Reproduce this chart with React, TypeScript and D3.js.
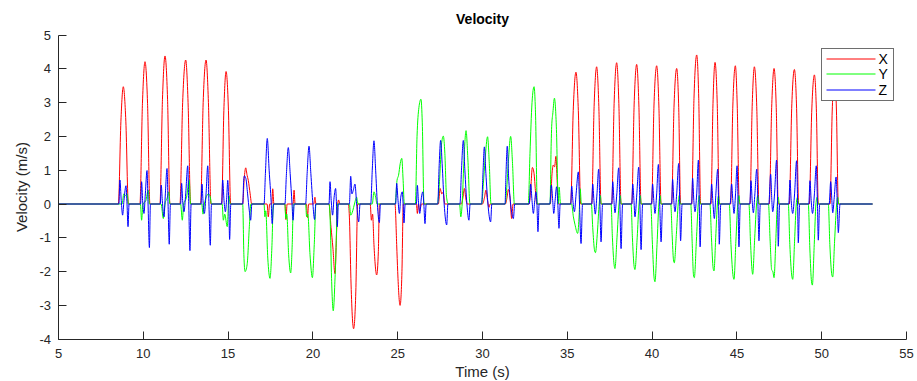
import React from "react";
import * as d3 from "d3";

type P = [number, number];

const title = "Velocity";
const xLabel = "Time (s)";
const yLabel = "Velocity (m/s)";
const xTicks = [5, 10, 15, 20, 25, 30, 35, 40, 45, 50, 55];
const yTicks = [-4, -3, -2, -1, 0, 1, 2, 3, 4, 5];
const seriesNames = ["X", "Y", "Z"];
const seriesColors = ["#ff0000", "#00ff00", "#0000ff"];

const xSeries: P[] = [
  [5, 0],
  [8.53, 0], [8.68, 2.45], [8.82, 3.47], [8.97, 2.45], [9.12, 0],
  [9.8, 0], [9.95, 2.98], [10.1, 4.21], [10.25, 2.98], [10.39, 0],
  [10.98, 0], [11.13, 3.1], [11.28, 4.38], [11.43, 3.1], [11.57, 0],
  [12.16, 0], [12.32, 3.0], [12.5, 4.26], [12.64, 3.0], [12.79, 0],
  [13.38, 0], [13.53, 3.0], [13.7, 4.26], [13.84, 3.0], [13.99, 0],
  [14.62, 0], [14.75, 2.77], [14.88, 3.92], [15.02, 2.77], [15.15, 0],
  [15.86, 0], [15.95, 0.75], [16.04, 1.07], [16.12, 0.85], [16.19, 0.7], [16.3, 0.3], [16.39, 0],
  [17.3, 0], [17.37, -0.38], [17.45, 0], [17.58, 0], [17.63, 0.45], [17.7, 0],
  [18.35, 0], [18.41, -0.46], [18.48, 0], [18.83, 0], [18.89, 0.41], [18.95, 0],
  [19.62, 0], [19.68, -0.4], [19.75, 0], [20.05, 0], [20.12, 0.2], [20.18, 0],
  [20.95, 0], [21.07, -0.7], [21.18, -1.3], [21.3, -2.06], [21.4, -0.8], [21.46, 0], [21.52, 0.12], [21.58, 0],
  [22.09, 0], [22.16, -0.5], [22.24, -2.2], [22.4, -3.69], [22.53, -2.6], [22.64, 0],
  [23.38, 0], [23.45, -0.48], [23.52, -0.3], [23.6, -1.2], [23.76, -2.1], [23.86, -1.4], [23.92, 0],
  [24.84, 0], [24.94, -1.2], [25.0, -2.0], [25.14, -3.0], [25.25, -2.0], [25.33, 0],
  [26.1, 0], [26.16, -0.28], [26.22, 0], [26.3, -0.2], [26.4, 0],
  [27.4, 0], [27.5, 0.46], [27.6, 0.3], [27.68, 0.35], [27.78, 0],
  [28.75, 0], [28.85, 0.2], [28.93, 0.46], [29.02, 0.15], [29.1, 0],
  [30.0, 0], [30.12, 0.2], [30.2, 0.41], [30.3, 0.1], [30.38, -0.1], [30.45, 0],
  [31.35, 0], [31.45, 0.2], [31.52, 0.43], [31.62, 0.2], [31.72, -0.43], [31.8, 0],
  [32.75, 0], [32.85, 0.5], [32.94, 1.08], [33.04, 0.9], [33.12, 0.4], [33.2, 0],
  [34.0, 0], [34.1, 0.9], [34.17, 1.15], [34.25, 1.1], [34.33, 1.41], [34.4, 0.7], [34.48, 0],
  [35.2, 0], [35.35, 2.77], [35.51, 3.9], [35.65, 2.77], [35.79, 0],
  [36.44, 0], [36.58, 2.88], [36.73, 4.06], [36.86, 2.88], [36.99, 0],
  [37.62, 0], [37.76, 2.97], [37.91, 4.18], [38.04, 2.97], [38.17, 0],
  [38.8, 0], [38.94, 2.93], [39.09, 4.13], [39.22, 2.93], [39.35, 0],
  [39.97, 0], [40.11, 2.9], [40.27, 4.09], [40.4, 2.9], [40.53, 0],
  [41.15, 0], [41.29, 2.85], [41.45, 4.01], [41.57, 2.85], [41.68, 0],
  [42.33, 0], [42.47, 3.13], [42.63, 4.41], [42.75, 3.13], [42.86, 0],
  [43.47, 0], [43.59, 2.97], [43.71, 4.19], [43.84, 2.97], [43.96, 0],
  [44.63, 0], [44.76, 2.9], [44.91, 4.09], [45.02, 2.9], [45.14, 0],
  [45.77, 0], [45.9, 2.88], [46.03, 4.06], [46.17, 2.88], [46.3, 0],
  [46.91, 0], [47.05, 2.85], [47.19, 4.01], [47.32, 2.85], [47.44, 0],
  [48.09, 0], [48.23, 2.83], [48.39, 3.98], [48.52, 2.83], [48.64, 0],
  [49.27, 0], [49.41, 2.71], [49.57, 3.82], [49.69, 2.71], [49.8, 0],
  [50.49, 0], [50.62, 2.75], [50.76, 3.9], [50.87, 2.75], [50.98, 0],
  [53, 0],
];

const ySeries: P[] = [
  [5, 0],
  [8.75, 0], [8.85, 0.3], [8.95, 0.25], [9.05, 0.3], [9.12, 0],
  [9.83, 0], [9.9, -0.48], [9.98, 0], [10.15, 0.1], [10.29, 0.41], [10.36, 0],
  [11.05, 0], [11.18, -0.43], [11.28, 0], [11.42, 0.2], [11.5, 0.36], [11.57, 0],
  [12.2, 0], [12.3, -0.48], [12.38, 0], [12.55, 0.2], [12.71, 0.7], [12.78, 0],
  [13.45, 0], [13.52, -0.3], [13.6, 0], [13.85, 0.3], [13.95, 0.2], [14.02, 0],
  [14.65, 0], [14.72, -0.48], [14.8, -0.3], [14.95, -0.67], [15.05, 0.25], [15.12, 0],
  [15.86, 0], [15.93, -1.5], [16.0, -2.0], [16.12, -1.8], [16.26, -0.6], [16.34, 0],
  [17.12, 0], [17.17, -0.38], [17.22, -0.2], [17.34, -1.6], [17.47, -2.2], [17.58, -1.3], [17.67, 0],
  [18.35, 0], [18.4, -0.43], [18.46, -0.3], [18.57, -1.5], [18.69, -2.04], [18.78, -1.2], [18.85, 0],
  [19.57, 0], [19.63, -0.38], [19.7, -0.3], [19.83, -1.5], [19.97, -2.18], [20.08, -1.2], [20.18, 0],
  [20.95, 0], [21.02, -0.5], [21.1, -2.2], [21.2, -3.16], [21.32, -2.0], [21.46, 0],
  [22.15, 0], [22.23, -0.33], [22.35, -0.2], [22.45, 0], [22.58, 0.2], [22.66, 0],
  [23.5, 0], [23.6, 0.36], [23.7, 0.2], [23.78, 0],
  [24.85, 0], [24.96, 0.7], [25.05, 0.85], [25.15, 1.2], [25.24, 1.35], [25.32, 0.7], [25.39, 0],
  [26.04, 0], [26.14, 2.0], [26.25, 2.85], [26.37, 3.1], [26.45, 2.4], [26.55, 0],
  [27.34, 0], [27.48, 0.8], [27.58, 1.75], [27.69, 2.01], [27.78, 1.5], [27.88, 0.2], [27.99, 0],
  [28.65, 0], [28.72, -0.38], [28.8, 0], [28.9, 1.2], [29.03, 2.17], [29.14, 1.3], [29.26, 0],
  [29.95, 0], [30.05, 0.6], [30.15, 1.3], [30.3, 1.99], [30.4, 1.2], [30.5, 0],
  [31.33, 0], [31.42, 0.4], [31.52, 1.2], [31.66, 2.0], [31.77, 1.2], [31.88, 0],
  [32.7, 0], [32.8, 1.5], [32.92, 3.0], [33.04, 3.47], [33.13, 2.6], [33.23, 0],
  [33.98, 0], [34.05, 1.8], [34.08, 2.3], [34.15, 2.7], [34.24, 3.13], [34.36, 2.2], [34.47, 0], [34.52, 0.5], [34.6, 0],
  [35.25, 0], [35.36, -0.38], [35.45, -0.6], [35.61, -0.87], [35.7, -0.3], [35.76, 0.45], [35.83, 0],
  [36.42, 0], [36.5, -0.7], [36.6, -1.35], [36.66, -1.44], [36.78, -0.8], [36.88, 0], [36.95, 0.25], [37.0, 0],
  [37.58, 0], [37.66, -1.0], [37.76, -1.8], [37.81, -1.91], [37.93, -1.0], [38.05, 0], [38.12, 0.25], [38.18, 0],
  [38.76, 0], [38.84, -1.0], [38.94, -1.85], [38.99, -1.94], [39.12, -1.0], [39.23, 0], [39.3, 0.25], [39.36, 0],
  [39.92, 0], [40.02, -1.2], [40.12, -2.2], [40.17, -2.3], [40.29, -1.2], [40.4, 0], [40.47, 0.25], [40.53, 0],
  [41.1, 0], [41.18, -0.9], [41.26, -1.65], [41.31, -1.74], [41.43, -0.9], [41.54, 0], [41.6, 0.25], [41.66, 0],
  [42.28, 0], [42.36, -1.1], [42.44, -2.1], [42.49, -2.18], [42.61, -1.1], [42.72, 0], [42.78, 0.25], [42.84, 0],
  [43.41, 0], [43.5, -1.0], [43.6, -1.9], [43.65, -1.98], [43.75, -1.0], [43.85, 0], [43.92, 0.25], [43.98, 0],
  [44.55, 0], [44.65, -1.2], [44.78, -2.15], [44.83, -2.23], [44.94, -1.1], [45.05, 0], [45.12, 0.25], [45.18, 0],
  [45.71, 0], [45.8, -1.1], [45.9, -2.0], [45.93, -2.08], [46.05, -1.0], [46.16, 0], [46.23, 0.25], [46.3, 0],
  [46.86, 0], [46.96, -1.1], [47.05, -1.95], [47.12, -2.0], [47.19, -2.18], [47.3, -1.0], [47.38, 0], [47.44, 0.2], [47.5, 0],
  [48.03, 0], [48.12, -1.2], [48.23, -2.1], [48.29, -2.23], [48.4, -1.1], [48.5, 0], [48.57, 0.2], [48.63, 0],
  [49.21, 0], [49.3, -1.3], [49.4, -2.3], [49.45, -2.4], [49.56, -1.2], [49.66, 0], [49.73, 0.2], [49.79, 0],
  [50.39, 0], [50.48, -1.2], [50.6, -2.1], [50.65, -2.16], [50.76, -1.1], [50.88, 0], [50.95, 0.2], [51.0, 0],
  [53, 0],
];

const zSeries: P[] = [
  [5, 0],
  [8.56, 0], [8.62, 0.71], [8.7, 0.1], [8.78, -0.33], [8.86, 0.1], [8.98, 0.54], [9.04, 0], [9.1, -0.67], [9.16, 0],
  [9.84, 0], [9.9, 0.66], [9.96, 0.1], [10.04, -0.28], [10.12, 0.3], [10.22, 0.99], [10.28, 0], [10.36, -1.29], [10.42, 0],
  [11.0, 0], [11.06, 0.56], [11.12, 0.1], [11.22, -0.38], [11.3, 0.3], [11.4, 1.05], [11.46, 0], [11.53, -1.19], [11.6, 0],
  [12.2, 0], [12.26, 0.61], [12.32, 0.1], [12.4, -0.23], [12.5, 0.3], [12.62, 1.13], [12.68, 0], [12.75, -1.38], [12.82, 0],
  [13.4, 0], [13.46, 0.59], [13.52, 0.1], [13.6, -0.28], [13.7, 0.3], [13.8, 1.13], [13.87, 0], [13.95, -1.22], [14.02, 0],
  [14.62, 0], [14.68, 0.71], [14.76, 0.1], [14.84, -0.23], [14.92, 0.2], [14.98, 0.7], [15.04, 0], [15.09, -1.05], [15.16, 0],
  [15.86, 0], [15.92, 0.7], [15.96, 0.83], [16.05, 0.75], [16.15, 0.3], [16.25, -0.2], [16.33, -0.48], [16.4, 0],
  [17.12, 0], [17.2, 0.9], [17.31, 1.94], [17.42, 1.0], [17.54, 0.05], [17.6, -0.58], [17.68, 0],
  [18.35, 0], [18.44, 0.9], [18.55, 1.67], [18.66, 0.9], [18.77, 0], [18.83, -0.48], [18.9, 0],
  [19.57, 0], [19.66, 0.9], [19.77, 1.71], [19.88, 0.9], [20.0, 0], [20.1, -0.46], [20.17, 0],
  [20.95, 0], [21.01, 0.66], [21.08, 0.1], [21.16, -0.33], [21.25, 0.2], [21.34, 0.46], [21.39, 0], [21.44, -0.67], [21.5, 0],
  [22.15, 0], [22.23, 0.82], [22.3, 0.3], [22.38, 0.4], [22.48, 0.59], [22.58, 0], [22.7, -0.53], [22.78, 0],
  [23.41, 0], [23.5, 1.0], [23.6, 1.87], [23.7, 1.0], [23.8, 0], [23.92, -0.55], [23.98, 0],
  [24.88, 0], [24.94, 0.61], [25.02, 0.1], [25.1, -0.28], [25.18, 0.2], [25.27, 0.36], [25.32, 0], [25.37, -0.56], [25.44, 0],
  [26.1, 0], [26.16, 0.55], [26.22, 0.1], [26.3, -0.28], [26.4, 0.2], [26.48, 0.36], [26.54, 0], [26.61, -0.58], [26.68, 0],
  [27.36, 0], [27.45, 1.2], [27.53, 1.88], [27.62, 1.2], [27.74, 0], [27.89, -0.62], [27.96, 0],
  [28.67, 0], [28.76, 1.0], [28.87, 1.88], [28.96, 1.0], [29.08, 0], [29.2, -0.48], [29.27, 0],
  [29.95, 0], [30.02, 0.8], [30.11, 1.69], [30.2, 0.9], [30.32, 0], [30.48, -0.53], [30.55, 0],
  [31.33, 0], [31.38, 0.8], [31.46, 1.71], [31.54, 0.8], [31.66, 0], [31.82, -0.43], [31.9, 0],
  [32.75, 0], [32.84, 0.59], [32.92, 0.1], [33.0, -0.28], [33.08, 0.1], [33.15, 0.36], [33.21, 0], [33.27, -0.82], [33.34, 0],
  [33.97, 0], [34.06, 0.56], [34.14, 0.1], [34.2, -0.28], [34.28, 0.1], [34.37, 0.51], [34.44, 0], [34.51, -0.72], [34.58, 0],
  [35.2, 0], [35.26, 0.53], [35.33, 0.1], [35.42, -0.23], [35.52, 0.3], [35.65, 0.95], [35.72, 0], [35.81, -1.17], [35.9, 0],
  [36.44, 0], [36.5, 0.59], [36.57, 0.1], [36.65, -0.3], [36.75, 0.3], [36.85, 1.03], [36.92, 0], [36.99, -1.12], [37.08, 0],
  [37.62, 0], [37.68, 0.66], [37.75, 0.1], [37.81, -0.26], [37.92, 0.3], [38.03, 1.07], [38.1, 0], [38.17, -1.32], [38.26, 0],
  [38.8, 0], [38.86, 0.59], [38.93, 0.1], [38.99, -0.38], [39.1, 0.3], [39.21, 1.09], [39.28, 0], [39.35, -1.35], [39.44, 0],
  [39.97, 0], [40.03, 0.59], [40.1, 0.1], [40.17, -0.28], [40.27, 0.3], [40.37, 1.17], [40.45, 0], [40.53, -1.12], [40.62, 0],
  [41.15, 0], [41.21, 0.73], [41.28, 0.1], [41.35, -0.23], [41.45, 0.3], [41.57, 1.2], [41.63, 0], [41.68, -1.09], [41.77, 0],
  [42.33, 0], [42.39, 0.76], [42.46, 0.1], [42.53, -0.23], [42.63, 0.3], [42.73, 1.3], [42.78, 0], [42.83, -1.27], [42.92, 0],
  [43.44, 0], [43.51, 0.59], [43.58, 0.1], [43.67, -0.43], [43.76, 0.3], [43.87, 1.03], [43.92, 0], [43.96, -1.19], [44.05, 0],
  [44.6, 0], [44.69, 0.59], [44.76, 0.1], [44.83, -0.28], [44.92, 0.3], [45.01, 1.13], [45.07, 0], [45.12, -1.27], [45.2, 0],
  [45.76, 0], [45.83, 0.69], [45.9, 0.1], [45.97, -0.26], [46.06, 0.3], [46.17, 1.03], [46.24, 0], [46.3, -1.09], [46.38, 0],
  [46.88, 0], [46.99, 0.88], [47.06, 0.1], [47.11, -0.23], [47.22, 0.3], [47.34, 1.3], [47.4, 0], [47.44, -1.25], [47.52, 0],
  [48.06, 0], [48.13, 0.71], [48.2, 0.1], [48.29, -0.28], [48.4, 0.3], [48.52, 1.28], [48.58, 0], [48.62, -1.15], [48.7, 0],
  [49.24, 0], [49.31, 0.69], [49.38, 0.1], [49.46, -0.28], [49.57, 0.3], [49.68, 1.13], [49.75, 0], [49.8, -1.07], [49.88, 0],
  [50.44, 0], [50.53, 0.66], [50.6, 0.1], [50.65, -0.26], [50.74, 0.2], [50.85, 0.8], [50.92, 0], [50.98, -0.85], [51.08, 0],
  [53, 0],
];

const allSeries = [xSeries, ySeries, zSeries];

const W = 917;
const H = 381;
const FONT = "'Liberation Sans', Arial, Helvetica, sans-serif";
const AX = "#262626";

const crisp = (v: number) => Math.round(v - 0.5) + 0.5;

export default function App() {
  const x = d3.scaleLinear().domain([5, 55]).range([58.5, 906.5]);
  const y = d3.scaleLinear().domain([-4, 5]).range([339.2, 35.0]);
  const line = d3
    .line<P>()
    .x((d) => x(d[0]))
    .y((d) => y(d[1]))
    .curve(d3.curveMonotoneX);

  const tickLen = 8;
  const legX = 821.5;
  const legY = 48.5;
  const legW = 72;
  const legH = 52;
  const axY = 339.5;
  const axX = 58.5;

  return (
    <svg
      width={W}
      height={H}
      style={{ position: "absolute", left: 0, top: 0, background: "#fff" }}
      fontFamily={FONT}
    >
      <rect x={0} y={0} width={W} height={H} fill="#fff" />
      {allSeries.map((s, i) => (
        <path
          key={i}
          d={line(s) || ""}
          fill="none"
          stroke={seriesColors[i]}
          strokeWidth={1}
          strokeLinejoin="round"
        />
      ))}
      {/* axes */}
      <line x1={axX} x2={x(55)} y1={axY} y2={axY} stroke={AX} strokeWidth={1} />
      <line x1={axX} x2={axX} y1={axY} y2={crisp(y(5))} stroke={AX} strokeWidth={1} />
      {xTicks.map((t) => (
        <g key={"xt" + t}>
          <line x1={crisp(x(t))} x2={crisp(x(t))} y1={axY} y2={axY - tickLen} stroke={AX} strokeWidth={1} />
          <text x={x(t)} y={358} textAnchor="middle" fontSize={13} fill={AX}>
            {t}
          </text>
        </g>
      ))}
      {yTicks.map((t) => (
        <g key={"yt" + t}>
          <line x1={axX} x2={axX + tickLen} y1={crisp(y(t))} y2={crisp(y(t))} stroke={AX} strokeWidth={1} />
          <text x={51} y={y(t) + 4.5} textAnchor="end" fontSize={13} fill={AX}>
            {t}
          </text>
        </g>
      ))}
      <text x={(x(5) + x(55)) / 2} y={377} textAnchor="middle" fontSize={15} fill={AX}>
        {xLabel}
      </text>
      <text
        transform={`translate(27, ${(y(-4) + y(5)) / 2}) rotate(-90)`}
        textAnchor="middle"
        fontSize={15}
        fill={AX}
      >
        {yLabel}
      </text>
      <text
        x={(x(5) + x(55)) / 2}
        y={24}
        textAnchor="middle"
        fontSize={14}
        fontWeight="bold"
        fill="#000"
      >
        {title}
      </text>
      {/* legend */}
      <rect x={legX} y={legY} width={legW} height={legH} fill="#fff" stroke="#6e6e6e" strokeWidth={1} />
      {seriesNames.map((n, i) => {
        const ly = Math.round(legY + 10 + i * 15.5);
        return (
          <g key={n}>
            <line x1={legX + 5} x2={legX + 54} y1={ly} y2={ly} stroke={seriesColors[i]} strokeWidth={1} />
            <text x={legX + 57} y={ly + 5} fontSize={14} fill="#000">
              {n}
            </text>
          </g>
        );
      })}
    </svg>
  );
}
